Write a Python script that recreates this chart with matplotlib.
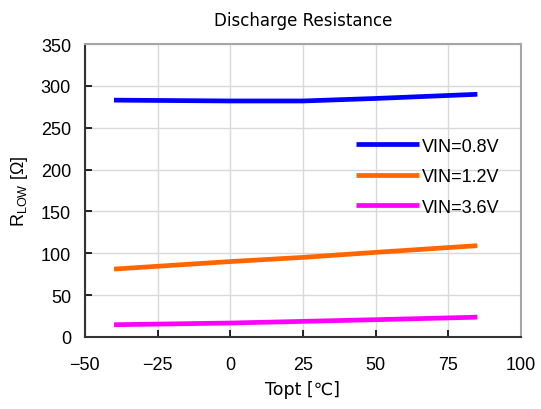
import matplotlib
matplotlib.use("Agg")
from matplotlib import pyplot as plt

plt.rcParams['font.family'] = ['Liberation Sans', 'Noto Sans CJK JP', 'DejaVu Sans']

# data
temp = [-40, 0, 25, 50, 85]
r_08 = [283, 282, 282, 285, 290]
r_12 = [81, 90, 95, 101, 109]
r_36 = [14.5, 16.5, 18.5, 20.5, 23.5]
labels = ['VIN=0.8V', 'VIN=1.2V', 'VIN=3.6V']
colors = ['#0000FF', '#FF6600', '#FF00FF']
xticks = [-50, -25, 0, 25, 50, 75, 100]
yticks = [0, 50, 100, 150, 200, 250, 300, 350]

fig = plt.figure(figsize=(5.41, 4.10), dpi=100)
ax = fig.add_axes([0.157, 0.176, 0.806, 0.714])

for ys, lab, c in zip([r_08, r_12, r_36], labels, colors):
    ax.plot(temp, ys, color=c, lw=3.4, label=lab, solid_capstyle='butt')

ax.set_xlim(-50, 100)
ax.set_ylim(0, 350)
ax.set_xticks(xticks)
ax.set_yticks(yticks)
ax.set_xticklabels([str(t).replace('-', '\u2212') for t in xticks])
ax.grid(True, color='#d9d9d9', lw=1)
ax.set_axisbelow(True)
ax.tick_params(direction='in', length=5, labelsize=13, colors='#000000', width=1.2)
ax.tick_params(axis='x', pad=14)
ax.tick_params(axis='y', pad=10)
for s in ['left', 'bottom']:
    ax.spines[s].set_color('#333333')
    ax.spines[s].set_linewidth(1.5)
for s in ['top', 'right']:
    ax.spines[s].set_color('#a6a6a6')
    ax.spines[s].set_linewidth(1.5)

wide = ['DejaVu Sans', 'Noto Sans CJK JP']
ax.set_title('Discharge Resistance', fontsize=12, pad=14, family=wide)
ax.set_xlabel('Topt [℃]', fontsize=12.5, labelpad=5, family=wide)
ax.set_ylabel('R$_{\\mathregular{LOW}}$ [Ω]', fontsize=13, labelpad=8)

leg = ax.legend(loc='upper left', bbox_to_anchor=(0.605, 0.705), frameon=False,
                fontsize=13, handlelength=3.5, handletextpad=0.15, labelspacing=0.75,
                borderaxespad=0)

fig.savefig('out.png', dpi=100)
